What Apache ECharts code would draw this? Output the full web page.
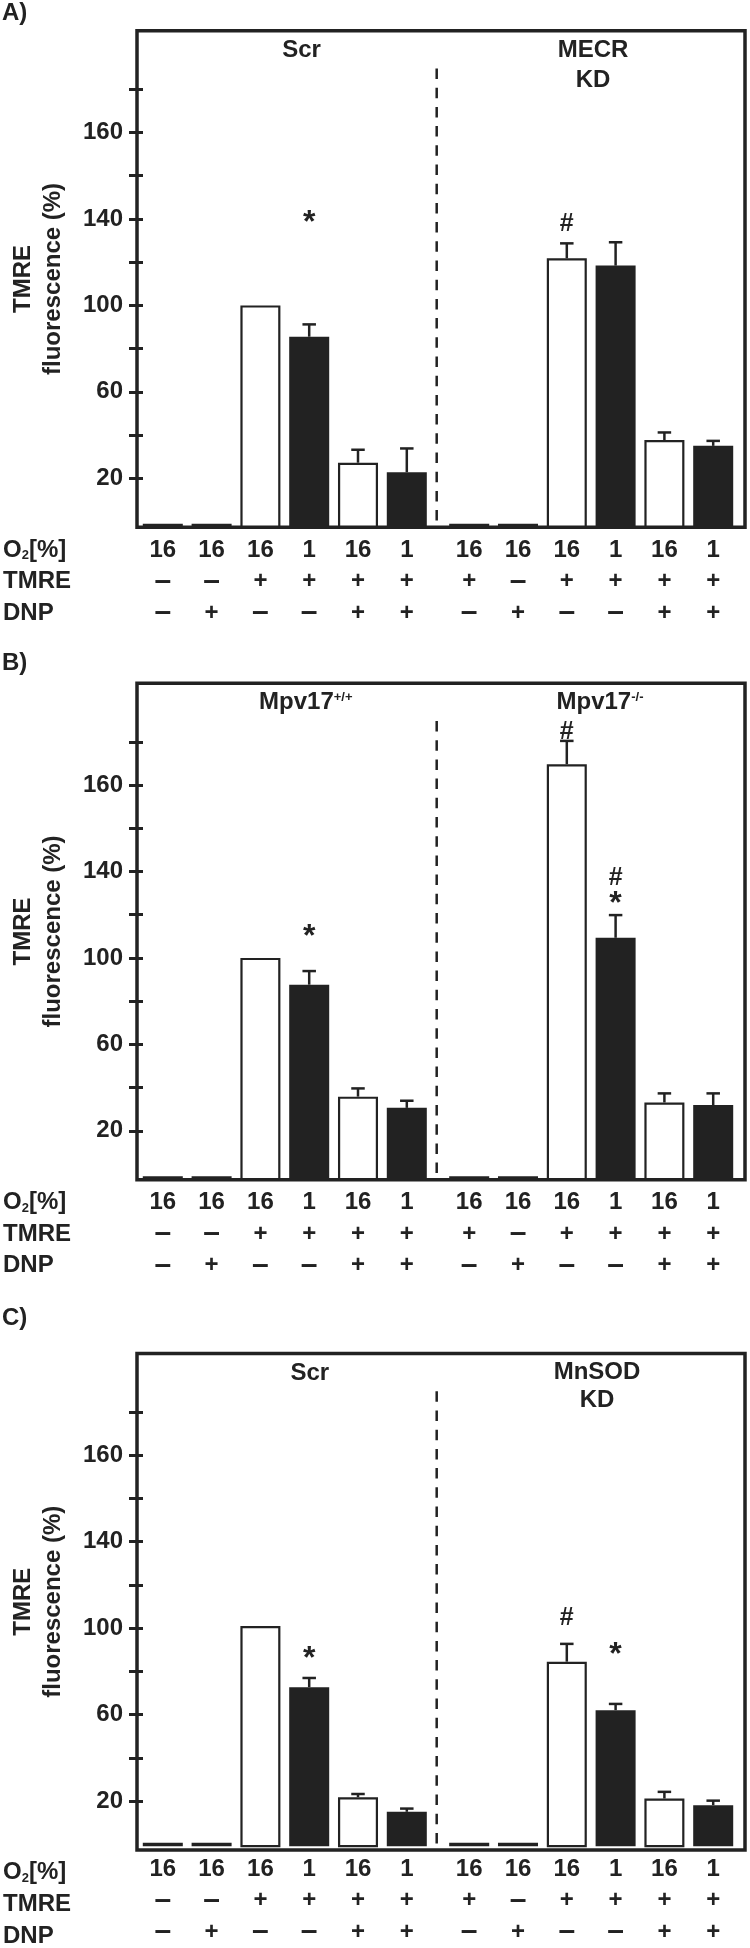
<!DOCTYPE html>
<html><head><meta charset="utf-8">
<script src="https://cdn.jsdelivr.net/npm/echarts@6/dist/echarts.min.js"></script>
<style>html,body{margin:0;padding:0;background:#fff}#c{width:750px;height:1948px}</style>
</head><body><div id="c"></div>
<script>
// ---------- data ----------
// 12 conditions per panel (6 control group + 6 knockdown group)
const conditions = ['0','1','2','3','4','5','6','7','8','9','10','11'];
const o2Levels = ['16','16','16','1','16','1','16','16','16','1','16','1'];
const tmreRow  = ['–','–','+','+','+','+','+','–','+','+','+','+'];
const dnpRow   = ['–','+','–','–','+','+','–','+','–','–','+','+'];

// y axis ticks and labels (as printed)
const yTickValues  = [20,40,60,80,100,120,140,160,180,200];
const yLabelValues = [20,60,100,140,180];
const yLabelTexts  = ['20','60','100','140','160'];

// Panel A: Scr vs MECR KD
const meanA = [-1,-1,100,85.5,27.2,22.8,-1,-1,121.8,118.4,37.7,35.0];
const semA  = [0,0,0,5.7,6.0,11.0,0,0,6.9,10.8,3.5,2.3];
const markIdxA = [3,8];
const markTxtA = ['*','#'];
const markPosA = [141.3,137.7];

// Panel B: Mpv17+/+ vs Mpv17-/-
const meanB = [-1,-1,100,87.6,35.8,30.6,-1,-1,189.6,109.3,33.1,31.9];
const semB  = [0,0,0,6.3,3.8,3.3,0,0,10.8,10.5,4.2,5.4];
const markIdxB = [3,8,9,9];
const markTxtB = ['*','#','#','*'];
const markPosB = [112.7,204.3,137.1,127.9];

// Panel C: Scr vs MnSOD KD
const meanC = [-1,-1,100,71.5,20.2,13.4,-1,-1,83.4,60.8,19.6,16.5];
const semC  = [0,0,0,4.3,1.5,1.5,0,0,8.3,2.9,3.1,2.1];
const markIdxC = [3,8,9];
const markTxtC = ['*','#','*'];
const markPosC = [87.6,103.6,89.6];

// ---------- style / layout ----------
const INK = '#222';
const FONT = "'Liberation Sans', Arial, Helvetica, sans-serif";
const openBar = [false,false,true,false,true,false,false,false,true,false,true,false];
const Y_MIN = -2.64, Y_MAX = 227.1;
const FRAME_LEFT = 126, FRAME_TOP = 30.7, FRAME_W = 619, FRAME_H = 496.5;
const GL_LEFT = 138.4, GR_LEFT = 444.8, GROUP_W = 292.8;
const BAR_FRAC = 0.82, CAP_W = 13.5;

const panels = [
  {off:0,      mean:meanA, sem:semA, mi:markIdxA, mt:markTxtA, my:markPosA, letter:'A)', letterY:13.5,
   titles:[{t:'Scr', x:301.5, y:50.7}, {t:'MECR', x:593, y:50.7}, {t:'KD', x:593, y:80.8}]},
  {off:652.5,  mean:meanB, sem:semB, mi:markIdxB, mt:markTxtB, my:markPosB, letter:'B)', letterY:663.8,
   titles:[{t:'{m|Mpv17}{s|+/+}', x:305.8, y:50.3}, {t:'{m|Mpv17}{s|-/-}', x:600, y:50.3}]},
  {off:1322.8, mean:meanC, sem:semC, mi:markIdxC, mt:markTxtC, my:markPosC, letter:'C)', letterY:1318.5,
   titles:[{t:'Scr', x:309.8, y:50.7}, {t:'MnSOD', x:597, y:49.6}, {t:'KD', x:597, y:77.4}]}
];

function renderBar(params, api) {
  const i = api.value(0), v = api.value(1), e = api.value(2), open = api.value(3);
  const w = api.size([1, 0])[0] * BAR_FRAC;
  const top = api.coord([i, v]);
  const bot = api.coord([i, Y_MIN]);
  const children = [];
  if (e > 0) {
    const et = api.coord([i, v + e]);
    children.push({type:'line', shape:{x1:top[0], y1:top[1], x2:top[0], y2:et[1]}, style:{stroke:INK, lineWidth:2.5}});
    children.push({type:'line', shape:{x1:top[0]-CAP_W/2, y1:et[1], x2:top[0]+CAP_W/2, y2:et[1]}, style:{stroke:INK, lineWidth:2.5}});
  }
  const lw = open ? 2.2 : 0;
  children.push({type:'rect',
    shape:{x: top[0] - w/2 + lw/2, y: top[1] + lw/2, width: w - lw, height: bot[1] - top[1] - lw/2},
    style:{fill: open ? '#fff' : INK, stroke: open ? INK : null, lineWidth: lw}});
  return {type:'group', children};
}

function makeMarkRenderer(texts) {
  return function (params, api) {
    const p = api.coord([api.value(0), api.value(1)]);
    const t = texts[params.dataIndex];
    const star = t === '*';
    return {type:'text', x:p[0], y:p[1] + (star ? 7 : 0),
      style:{text:t, fontSize: star ? 32 : 25, fontWeight:'bold', fontFamily:FONT, fill:INK,
             align:'center', verticalAlign:'middle'}};
  };
}

function sym(s) { return s === '–' ? '{d|–}' : '{p|' + s + '}'; }

const labelRich = {
  n:{fontSize:24, fontWeight:'bold', fontFamily:FONT, color:INK, lineHeight:31.6},
  p:{fontSize:24, fontWeight:'bold', fontFamily:FONT, color:INK, lineHeight:31.6},
  d:{fontSize:30, fontWeight:'bold', fontFamily:FONT, color:INK, lineHeight:31.6}
};

const grid = [], xAxis = [], yAxis = [], series = [], graphic = [];

panels.forEach((P, p) => {
  const top = FRAME_TOP + P.off;
  grid.push({left:FRAME_LEFT, top, width:FRAME_W, height:FRAME_H, show:true,
             borderColor:INK, borderWidth:3.5, backgroundColor:'rgba(0,0,0,0)', z:5});
  grid.push({left:GL_LEFT, top, width:GROUP_W, height:FRAME_H});
  grid.push({left:GR_LEFT, top, width:GROUP_W, height:FRAME_H});

  const g0 = 3 * p;
  xAxis.push({gridIndex:g0, type:'value', show:false, min:0, max:1});
  [0, 1].forEach(side => {
    const first = side * 6;
    xAxis.push({gridIndex:g0 + 1 + side, type:'category', data:conditions.slice(first, first + 6),
      axisLine:{show:false}, axisTick:{show:false}, splitLine:{show:false},
      axisLabel:{interval:0, margin:7, lineHeight:31.6, fontSize:24, fontWeight:'bold',
        fontFamily:FONT, color:INK, rich:labelRich,
        formatter: v => { const k = +v; return '{n|' + o2Levels[k] + '}\n' + sym(tmreRow[k]) + '\n' + sym(dnpRow[k]); }}});
  });

  yAxis.push({gridIndex:g0, type:'value', min:Y_MIN, max:Y_MAX, position:'left', offset:0,
    splitLine:{show:false}, axisLine:{show:false},
    axisTick:{show:true, inside:false, length:8, customValues:yTickValues, lineStyle:{color:INK, width:3}},
    axisLabel:{customValues:yLabelValues, formatter: v => yLabelTexts[yLabelValues.indexOf(v)],
      fontSize:24, fontWeight:'bold', fontFamily:FONT, color:INK, margin:14},
    name:'TMRE\nfluorescence (%)', nameLocation:'middle', nameGap:69,
    nameTextStyle:{fontSize:24, fontWeight:'bold', fontFamily:FONT, color:INK, lineHeight:30}});
  yAxis.push({gridIndex:g0, type:'value', min:Y_MIN, max:Y_MAX, position:'left', offset:0,
    splitLine:{show:false}, axisLine:{show:false}, axisLabel:{show:false},
    axisTick:{show:true, inside:true, length:6, customValues:yTickValues, lineStyle:{color:INK, width:3}}});
  yAxis.push({gridIndex:g0 + 1, type:'value', min:Y_MIN, max:Y_MAX, show:false});
  yAxis.push({gridIndex:g0 + 2, type:'value', min:Y_MIN, max:Y_MAX, show:false});

  [0, 1].forEach(side => {
    const first = side * 6;
    const data = [];
    for (let k = first; k < first + 6; k++) {
      data.push([k - first, P.mean[k], P.sem[k], openBar[k] ? 1 : 0]);
    }
    series.push({type:'custom', xAxisIndex:3*p + 1 + side, yAxisIndex:4*p + 2 + side,
      renderItem:renderBar, data, encode:{x:0, y:1}, z:3, silent:true, clip:false});
    const mData = [], mTxt = [];
    P.mi.forEach((idx, j) => {
      if ((idx >= 6 ? 1 : 0) === side) { mData.push([idx - first, P.my[j]]); mTxt.push(P.mt[j]); }
    });
    if (mData.length) {
      series.push({type:'custom', xAxisIndex:3*p + 1 + side, yAxisIndex:4*p + 2 + side,
        renderItem:makeMarkRenderer(mTxt), data:mData, encode:{x:0, y:1}, z:4, silent:true, clip:false});
    }
  });

  // panel letter
  graphic.push({type:'text', x:2, y:P.letterY, style:{text:P.letter, fontSize:24, fontWeight:'bold',
    fontFamily:FONT, fill:INK, align:'left', verticalAlign:'middle'}});
  // group titles
  P.titles.forEach(T => {
    graphic.push({type:'text', x:T.x, y:T.y + P.off, style:{text:T.t, fontSize:24, fontWeight:'bold',
      fontFamily:FONT, fill:INK, align:'center', verticalAlign:'middle',
      rich:{m:{fontSize:24, fontWeight:'bold', fontFamily:FONT, fill:INK},
            s:{fontSize:13, fontWeight:'bold', fontFamily:FONT, fill:INK, verticalAlign:'top'}}}});
  });
  // divider
  graphic.push({type:'line', shape:{x1:436.7, y1:68.5 + P.off, x2:436.7, y2:527 + P.off},
    style:{stroke:INK, lineWidth:2.5, lineDash:[10.5, 8.7]}});
  // row headers
  const rowY = [550, 581.7, 613.3];
  graphic.push({type:'text', x:3, y:rowY[0] + P.off, style:{text:'{b|O}{s|2}{b|[%]}', align:'left', verticalAlign:'middle',
    rich:{b:{fontSize:24, fontWeight:'bold', fontFamily:FONT, fill:INK},
          s:{fontSize:13, fontWeight:'bold', fontFamily:FONT, fill:INK, verticalAlign:'bottom'}}}});
  graphic.push({type:'text', x:3, y:rowY[1] + P.off, style:{text:'TMRE', fontSize:24, fontWeight:'bold',
    fontFamily:FONT, fill:INK, align:'left', verticalAlign:'middle'}});
  graphic.push({type:'text', x:3, y:rowY[2] + P.off, style:{text:'DNP', fontSize:24, fontWeight:'bold',
    fontFamily:FONT, fill:INK, align:'left', verticalAlign:'middle'}});
});

const chart = echarts.init(document.getElementById('c'), null, {renderer:'canvas'});
chart.setOption({animation:false, backgroundColor:'#fff', grid, xAxis, yAxis, series, graphic});
</script>
</body></html>
